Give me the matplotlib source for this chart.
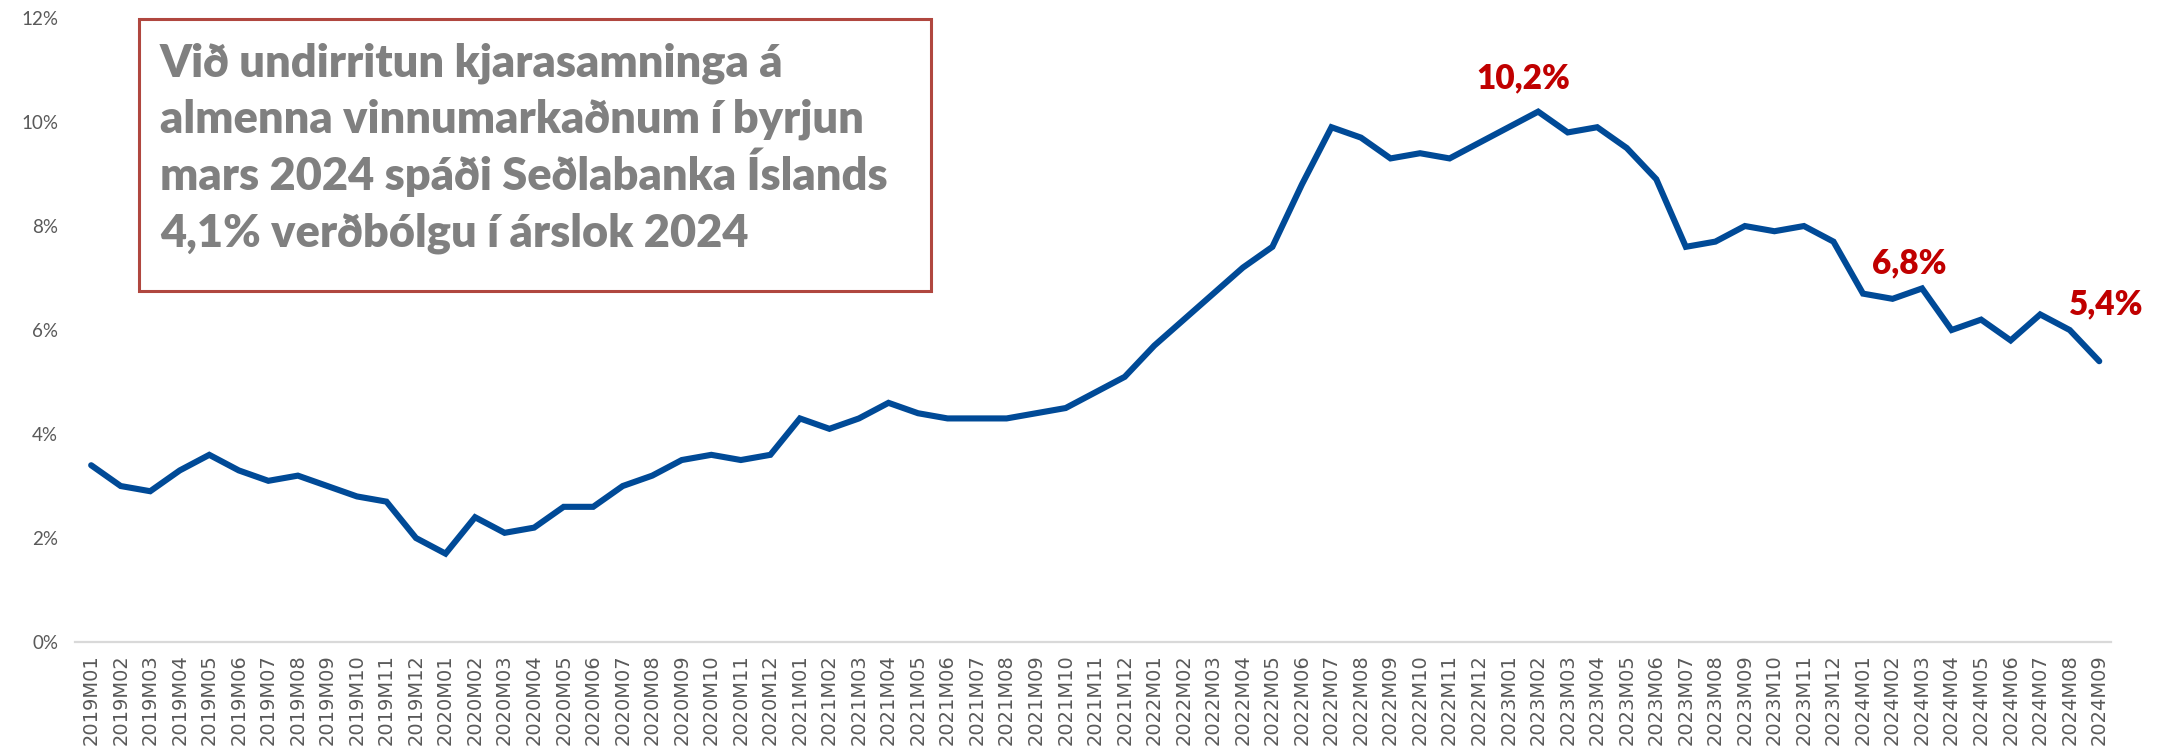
import matplotlib
matplotlib.use("Agg")
import matplotlib.pyplot as plt
from matplotlib.patches import Rectangle
import numpy as np

# Ársverðbólga, mánaðarlega 2019M01 - 2024M09 (%)
months = [f"{y}M{m:02d}" for y in range(2019, 2025) for m in range(1, 13)][:69]
inflation = [
    3.4, 3.0, 2.9, 3.3, 3.6, 3.3, 3.1, 3.2, 3.0, 2.8, 2.7, 2.0,   # 2019
    1.7, 2.4, 2.1, 2.2, 2.6, 2.6, 3.0, 3.2, 3.5, 3.6, 3.5, 3.6,   # 2020
    4.3, 4.1, 4.3, 4.6, 4.4, 4.3, 4.3, 4.3, 4.4, 4.5, 4.8, 5.1,   # 2021
    5.7, 6.2, 6.7, 7.2, 7.6, 8.8, 9.9, 9.7, 9.3, 9.4, 9.3, 9.6,   # 2022
    9.9, 10.2, 9.8, 9.9, 9.5, 8.9, 7.6, 7.7, 8.0, 7.9, 8.0, 7.7,  # 2023
    6.7, 6.6, 6.8, 6.0, 6.2, 5.8, 6.3, 6.0, 5.4,                  # 2024
]
y_ticks = [0, 2, 4, 6, 8, 10, 12]

# merktir punktar: (mánuður, texti, hliðrun í punktum)
highlights = [
    ("2023M02", "10,2%", (-11, 17)),
    ("2024M03", "6,8%", (-9, 11)),
    ("2024M09", "5,4%", (5, 34)),
]

box_lines = [
    "Við undirritun kjarasamninga á",
    "almenna vinnumarkaðnum í byrjun",
    "mars 2024 spáði Seðlabanka Íslands",
    "4,1% verðbólgu í árslok 2024",
]

line_color = "#004a97"
label_red = "#c00000"
grey_txt = "#595959"

fig = plt.figure(figsize=(21.59, 7.51), dpi=100)
ax = fig.add_axes([0.0347, 0.1451, 0.9431, 0.8309])

x = np.arange(len(months))
ax.plot(x, inflation, color=line_color, lw=4.4, solid_joinstyle="miter",
        solid_capstyle="round")

ax.set_xlim(-0.55, 68.4)
ax.set_ylim(0, 12)
ax.set_yticks(y_ticks)
ax.set_yticklabels([f"{t}%" for t in y_ticks], fontfamily="Lato",
                   fontsize=13.5, color=grey_txt)
ax.set_xticks(x)
ax.set_xticklabels(months, rotation=90, fontfamily="DejaVu Sans",
                   fontsize=14, color=grey_txt)
ax.tick_params(axis="both", length=0)
ax.tick_params(axis="y", pad=12)
ax.tick_params(axis="x", pad=9)

for side in ("top", "right", "left"):
    ax.spines[side].set_visible(False)
ax.spines["bottom"].set_color("#d9d9d9")
ax.spines["bottom"].set_linewidth(1.6)

for month, txt, off in highlights:
    i = months.index(month)
    ax.annotate(txt, (i, inflation[i]), xytext=off, textcoords="offset points",
                ha="center", va="baseline", fontfamily="Lato",
                fontweight="heavy", fontsize=24, color=label_red)

# textakassi
fig.patches.append(Rectangle((0.0644, 0.6125), 0.3668, 0.3622,
                             transform=fig.transFigure, fill=False,
                             edgecolor="#b0473f", lw=2.2))
for k, line in enumerate(box_lines):
    fig.text(0.0741, 1 - (76 + 57 * k) / 751, line, ha="left", va="baseline",
             fontfamily="Lato", fontweight="heavy", fontsize=32.5,
             color="#808080")

fig.savefig("out.png", dpi=100)
